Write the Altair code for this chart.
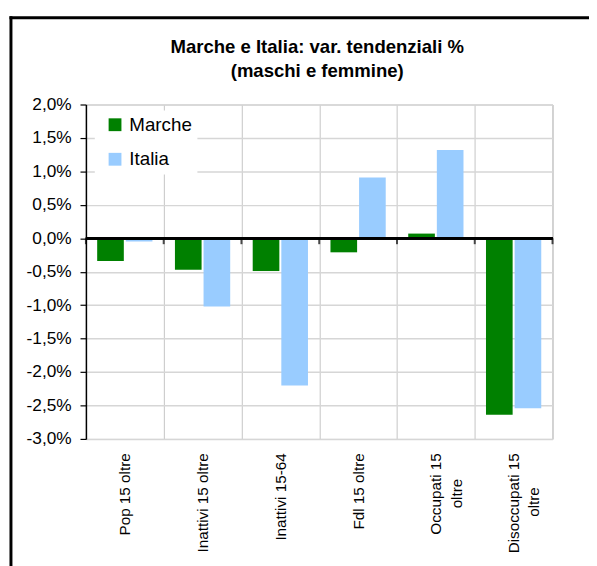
import altair as alt
import pandas as pd

PAD = "\u00a0"
END = "\u200b"
categories = ["Pop 15 oltre", "Inattivi 15 oltre", "Inattivi 15-64", "Fdl 15 oltre",
              "Occupati 15|oltre" + PAD * 6 + END, "Disoccupati 15|oltre" + PAD * 8 + END]
marche = [-0.34, -0.47, -0.49, -0.21, 0.07, -2.64]
italia = [-0.05, -1.02, -2.20, 0.91, 1.32, -2.54]
series = ["Marche", "Italia"]
colors = ["#008000", "#99ccff"]
y_ticks = [2.0, 1.5, 1.0, 0.5, 0.0, -0.5, -1.0, -1.5, -2.0, -2.5, -3.0]
title_lines = ["Marche e Italia: var. tendenziali %", "(maschi e femmine)"]

rows = []
for c, m, i in zip(categories, marche, italia):
    rows.append({"cat": c, "series": "Marche", "value": m})
    rows.append({"cat": c, "series": "Italia", "value": i})
df = pd.DataFrame(rows)
cat_df = pd.DataFrame({"cat": categories})

FONT = "Liberation Sans"

xscale = alt.Scale(domain=categories, paddingInner=0, paddingOuter=0)
yscale = alt.Scale(domain=[-3, 2], nice=False)

label_expr = "replace(replace(format(datum.value, '.1f'), '.', ','), '\u2212', '-') + '%'"

xaxis = alt.Axis(title=None, labelAngle=-90, labelExpr="split(datum.label, '|')",
                 labelFont=FONT, labelFontSize=15.5, labelColor="black",
                 labelLineHeight=20.5, ticks=False, tickSize=0, domain=False,
                 grid=True, tickBand="extent", gridColor="#c4c4c4", gridWidth=1,
                 labelPadding=14)
yaxis = alt.Axis(title=None, values=y_ticks, labelExpr=label_expr,
                 labelFont=FONT, labelFontSize=17.5, labelColor="black",
                 labelOverlap=False, labelBound=False,
                 tickColor="black", tickSize=6, tickWidth=1.2,
                 domainColor="black", domainWidth=1.5,
                 gridColor="#d6d6d6", gridWidth=1.5, labelPadding=9)

bars = alt.Chart(df).mark_bar().encode(
    x=alt.X("cat:N", sort=categories, scale=xscale, axis=xaxis),
    xOffset=alt.XOffset("series:N", sort=series,
                        scale=alt.Scale(domain=series, paddingInner=0.069, paddingOuter=0.393)),
    y=alt.Y("value:Q", scale=yscale, axis=yaxis),
    color=alt.Color("series:N", sort=series, scale=alt.Scale(domain=series, range=colors),
                    legend=alt.Legend(title=None, orient="none", legendX=9, legendY=6,
                                      fillColor="white", padding=5, symbolOffset=6,
                                      symbolType="square",
                                      symbolSize=169, symbolStrokeWidth=0, symbolOpacity=1,
                                      labelFont=FONT, labelFontSize=19, labelColor="black",
                                      rowPadding=15, labelOffset=5)),
)

zero = alt.Chart(cat_df).mark_rule(color="black", strokeWidth=2.5).encode(
    y=alt.Y(datum=0, scale=yscale, axis=yaxis)
)

ticks_start = alt.Chart(cat_df).mark_tick(
    orient="vertical", size=6, thickness=2, yOffset=3, color="black"
).encode(
    x=alt.X("cat:N", sort=categories, scale=xscale, bandPosition=0, axis=xaxis),
    y=alt.Y(datum=0, scale=yscale, axis=yaxis),
)
ticks_end = alt.Chart(cat_df.tail(1)).mark_tick(
    orient="vertical", size=6, thickness=2, yOffset=3, color="black"
).encode(
    x=alt.X("cat:N", sort=categories, scale=xscale, bandPosition=1, axis=xaxis),
    y=alt.Y(datum=0, scale=yscale, axis=yaxis),
)

frame_data = alt.Data(values=[{"k": 1}])
frame_left = alt.Chart(frame_data).mark_rule(color="black", strokeWidth=3).encode(
    x=alt.value(-76), y=alt.value(-89.5), y2=alt.value(600)
)
frame_top = alt.Chart(frame_data).mark_rule(color="black", strokeWidth=3).encode(
    x=alt.value(-77.5), x2=alt.value(600), y=alt.value(-88)
)

chart = alt.layer(bars, zero, ticks_start, ticks_end, frame_left, frame_top).properties(
    width=473, height=339,
    title=alt.Title(title_lines, font=FONT, fontSize=18.8, fontWeight="bold", color="black",
                    anchor="middle", dx=-2, offset=-86, lineHeight=24, frame="group",
                    baseline="bottom"),
    autosize=alt.AutoSizeParams(type="none"),
    padding={"left": 79, "top": 94, "right": 37, "bottom": 125},
).configure_view(stroke="#c4c4c4", strokeWidth=1)

chart.save("out.html", embed_options={"renderer": "svg", "actions": False})
